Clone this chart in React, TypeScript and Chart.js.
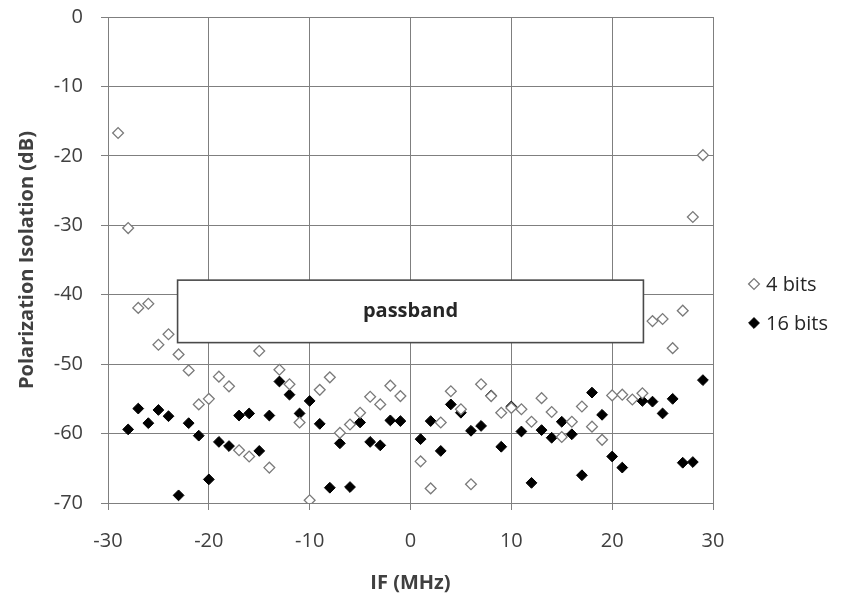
import React, { useEffect, useRef } from 'react';
import { Chart, registerables } from 'chart.js';

Chart.register(...registerables);

// IF offsets (MHz) and measured polarization isolation (dB)
const ifFreqs4 = [
  -29, -28, -27, -26, -25, -24, -23, -22, -21, -20, -19, -18, -17, -16, -15, -14, -13, -12, -11, -10,
  -9, -8, -7, -6, -5, -4, -3, -2, -1, 1, 2, 3, 4, 5, 6, 7, 8, 9, 10,
  11, 12, 13, 14, 15, 16, 17, 18, 19, 20, 21, 22, 23, 24, 25, 26, 27, 28, 29,
];
const isolation4 = [
  -16.7, -30.4, -41.9, -41.3, -47.2, -45.7, -48.6, -50.9, -55.8, -55.0, -51.8, -53.2, -62.4, -63.3, -48.1, -64.9, -50.8, -52.9, -58.4, -69.6,
  -53.7, -51.9, -59.9, -58.7, -57.0, -54.7, -55.8, -53.1, -54.6, -64.0, -67.9, -58.4, -53.9, -56.5, -67.3, -52.9, -54.6, -57.0, -56.3,
  -56.5, -58.3, -54.9, -56.9, -60.5, -58.3, -56.1, -59.0, -60.9, -54.5, -54.4, -55.1, -54.2, -43.8, -43.5, -47.7, -42.3, -28.8, -19.9,
];

const ifFreqs16 = [
  -28, -27, -26, -25, -24, -23, -22, -21, -20, -19, -18, -17, -16, -15, -14, -13, -12, -11, -10,
  -9, -8, -7, -6, -5, -4, -3, -2, -1, 1, 2, 3, 4, 5, 6, 7, 8, 9, 10,
  11, 12, 13, 14, 15, 16, 17, 18, 19, 20, 21, 23, 24, 25, 26, 27, 28, 29,
];
const isolation16 = [
  -59.4, -56.4, -58.5, -56.6, -57.5, -68.9, -58.5, -60.3, -66.6, -61.2, -61.8, -57.4, -57.1, -62.5, -57.4, -52.5, -54.4, -57.1, -55.3,
  -58.6, -67.8, -61.4, -67.7, -58.4, -61.2, -61.7, -58.1, -58.2, -60.8, -58.2, -62.5, -55.8, -57.0, -59.6, -58.9, -54.5, -61.9, -56.1,
  -59.7, -67.1, -59.5, -60.6, -58.3, -60.1, -66.0, -54.1, -57.3, -63.3, -64.9, -55.3, -55.4, -57.1, -55.0, -64.2, -64.1, -52.3,
];

const seriesNames = ['4 bits', '16 bits'];

// Passband annotation extent: IF edges (MHz) and top/bottom levels (dB)
const passbandEdges = [-23.1, 23.1];
const passbandLevels = [-37.9, -46.9];
const passbandLabel = 'passband';

const FONT = '"Open Sans", "Liberation Sans", sans-serif';
const TEXT = '#404040';
const GRID = '#7f7f7f';
const MARK_R = 5.4;

function diamond(ctx: CanvasRenderingContext2D, x: number, y: number, r: number) {
  ctx.beginPath();
  ctx.moveTo(x - r, y);
  ctx.lineTo(x, y - r);
  ctx.lineTo(x + r, y);
  ctx.lineTo(x, y + r);
  ctx.closePath();
}

const passbandPlugin = {
  id: 'passbandBox',
  afterDatasetsDraw(chart: any) {
    const { ctx, scales } = chart;
    const xs = scales.x;
    const ys = scales.y;
    const l = xs.getPixelForValue(passbandEdges[0]);
    const r = xs.getPixelForValue(passbandEdges[1]);
    const t = ys.getPixelForValue(passbandLevels[0]);
    const b = ys.getPixelForValue(passbandLevels[1]);
    ctx.save();
    ctx.fillStyle = '#ffffff';
    ctx.fillRect(l, t, r - l, b - t);
    ctx.strokeStyle = '#4a4a4a';
    ctx.lineWidth = 1.6;
    ctx.strokeRect(l, t, r - l, b - t);
    ctx.fillStyle = '#262626';
    ctx.font = `bold 20px ${FONT}`;
    ctx.textAlign = 'center';
    ctx.textBaseline = 'middle';
    ctx.fillText(passbandLabel, (l + r) / 2, (t + b) / 2);
    ctx.restore();
  },
};

const sideLegendPlugin = {
  id: 'sideLegend',
  afterDraw(chart: any) {
    const { ctx, chartArea } = chart;
    const mx = chartArea.right + 41;
    const rows = [chartArea.top + 267, chartArea.top + 306];
    ctx.save();
    ctx.font = `20px ${FONT}`;
    ctx.textAlign = 'left';
    ctx.textBaseline = 'middle';
    chart.data.datasets.forEach((ds: any, i: number) => {
      const y = rows[i];
      diamond(ctx, mx, y, MARK_R);
      ctx.fillStyle = ds.backgroundColor;
      ctx.fill();
      ctx.lineWidth = ds.borderWidth;
      ctx.strokeStyle = ds.borderColor;
      ctx.stroke();
      ctx.fillStyle = '#262626';
      ctx.fillText(ds.label, mx + 12, y + 1);
    });
    ctx.restore();
  },
};

export default function App() {
  const canvasRef = useRef<HTMLCanvasElement | null>(null);

  useEffect(() => {
    if (!canvasRef.current) return;
    const chart = new Chart(canvasRef.current, {
      type: 'scatter',
      data: {
        datasets: [
          {
            label: seriesNames[0],
            data: ifFreqs4.map((f, i) => ({ x: f, y: isolation4[i] })),
            pointStyle: 'rectRot',
            pointRadius: MARK_R,
            pointHoverRadius: MARK_R,
            backgroundColor: '#ffffff',
            borderColor: '#7a7a7a',
            borderWidth: 1.3,
          },
          {
            label: seriesNames[1],
            data: ifFreqs16.map((f, i) => ({ x: f, y: isolation16[i] })),
            pointStyle: 'rectRot',
            pointRadius: MARK_R,
            pointHoverRadius: MARK_R,
            backgroundColor: '#000000',
            borderColor: '#000000',
            borderWidth: 1,
          },
        ],
      },
      options: {
        responsive: false,
        animation: false,
        events: [],
        layout: { padding: { top: 17, right: 137, left: 0, bottom: 0 } },
        plugins: {
          legend: { display: false },
          tooltip: { enabled: false },
        },
        scales: {
          x: {
            type: 'linear',
            min: -30,
            max: 30,
            ticks: { stepSize: 10, padding: 19, color: TEXT, font: { family: FONT, size: 20 } },
            grid: { color: GRID, lineWidth: 1, tickLength: 7, drawTicks: true },
            border: { color: GRID, width: 1 },
            title: {
              display: true,
              text: 'IF (MHz)',
              color: TEXT,
              font: { family: FONT, size: 20, weight: 'bold' },
              padding: { top: 0, bottom: 0 },
            },
            afterFit: (s: any) => {
              s.height = 92;
            },
          },
          y: {
            type: 'linear',
            min: -70,
            max: 0,
            ticks: { stepSize: 10, padding: 18, color: TEXT, font: { family: FONT, size: 20 } },
            grid: { color: GRID, lineWidth: 1, tickLength: 7, drawTicks: true },
            border: { color: GRID, width: 1 },
            title: {
              display: true,
              text: 'Polarization Isolation (dB)',
              color: TEXT,
              font: { family: FONT, size: 20, weight: 'bold' },
              padding: { top: 15, bottom: 0 },
            },
            afterFit: (s: any) => {
              s.width = 108;
              s.paddingTop = 0;
              s.paddingBottom = 0;
            },
          },
        },
      },
      plugins: [passbandPlugin, sideLegendPlugin],
    });
    return () => chart.destroy();
  }, []);

  return (
    <div style={{ position: 'fixed', left: 0, top: 0, width: 850, height: 595, background: '#ffffff' }}>
      <canvas ref={canvasRef} width={850} height={595} style={{ display: 'block' }} />
    </div>
  );
}
